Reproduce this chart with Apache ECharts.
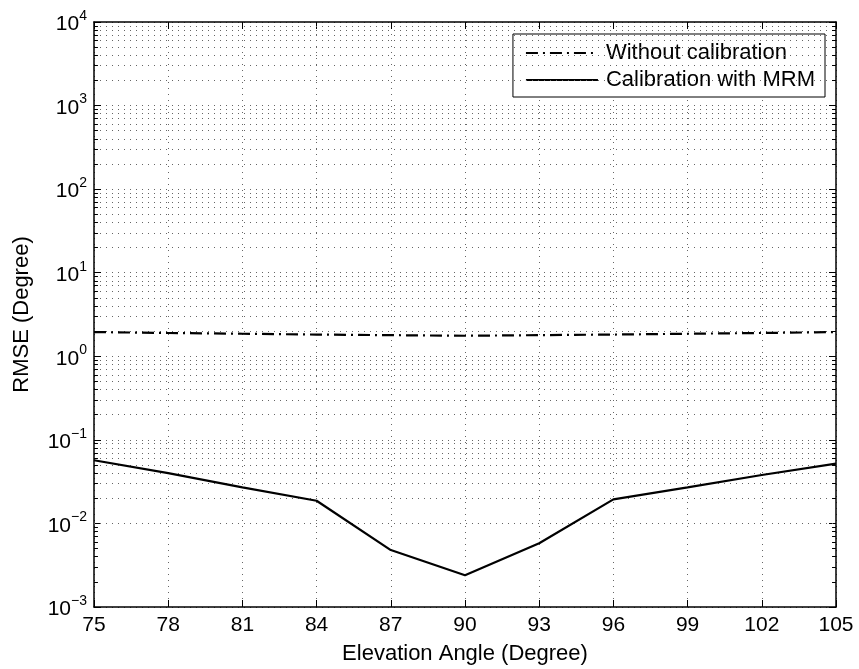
<!DOCTYPE html>
<html>
<head>
<meta charset="utf-8">
<script src="https://cdn.jsdelivr.net/npm/echarts@6/dist/echarts.min.js"></script>
<style>html,body{margin:0;background:#fff}#chart{width:859px;height:669px}</style>
</head>
<body>
<div id="chart"></div>
<script>
// ========= data =========
const angles = [75, 78, 81, 84, 87, 90, 93, 96, 99, 102, 105];
const withoutCal = [1.95, 1.9, 1.86, 1.82, 1.79, 1.76, 1.79, 1.82, 1.86, 1.9, 1.95];
const withMRM = [0.057, 0.040, 0.027, 0.0187, 0.0048, 0.0024, 0.0058, 0.0194, 0.027, 0.038, 0.052];
const seriesNames = ['Without calibration', 'Calibration with MRM'];
const xTicks = [75, 105, 3];      // min, max, step
const yRange = [1e-3, 1e4];

const FONT = "'Liberation Sans', Arial, sans-serif";
const dotted = { type: [1, 5], color: '#666', width: 1 };

// minor log grid values 2..9 per decade
const minorVals = [];
for (let e = -3; e < 4; e++) {
    for (let m = 2; m <= 9; m++) minorVals.push(+(m * Math.pow(10, e)).toPrecision(3));
}
const tickLen = 0.16;
const tickStyle = { type: 'solid', color: '#000', width: 1 };
const minorLines = [];
minorVals.forEach(v => {
    minorLines.push({ yAxis: v, lineStyle: dotted });
    minorLines.push([{ xAxis: xTicks[0], yAxis: v, lineStyle: tickStyle }, { xAxis: xTicks[0] + tickLen, yAxis: v }]);
    minorLines.push([{ xAxis: xTicks[1] - tickLen, yAxis: v, lineStyle: tickStyle }, { xAxis: xTicks[1], yAxis: v }]);
});

const supLabel = v => {
    const e = Math.round(Math.log10(v));
    return '{b|10}{s|' + (e < 0 ? '\u2212' + (-e) : e) + '}';
};

const chart = echarts.init(document.getElementById('chart'));
chart.setOption({
    animation: false,
    backgroundColor: '#fff',
    textStyle: { fontFamily: FONT },
    grid: { left: 94, right: 23, top: 22, bottom: 62, outerBoundsMode: 'none', containLabel: false },
    legend: {
        data: seriesNames,
        orient: 'vertical',
        right: 34, top: 34,
        itemWidth: 72, itemHeight: 14, itemGap: 5,
        padding: [8, 10, 6, 12],
        borderColor: '#000', borderWidth: 1,
        backgroundColor: '#fff',
        itemStyle: { opacity: 0 },
        textStyle: { fontSize: 22, color: '#000', fontFamily: FONT, padding: [0, 0, 0, 3] }
    },
    xAxis: [{
        type: 'value', min: xTicks[0], max: xTicks[1], interval: xTicks[2],
        name: 'Elevation Angle (Degree)', nameLocation: 'middle', nameGap: 36,
        nameTextStyle: { fontSize: 22, color: '#000', fontFamily: FONT },
        axisLine: { lineStyle: { color: '#000', width: 1.5 } },
        axisTick: { inside: true, length: 7, lineStyle: { color: '#000' } },
        axisLabel: { fontSize: 21, color: '#000', margin: 8, fontFamily: FONT },
        splitLine: { show: true, lineStyle: dotted }
    }, {
        type: 'value', position: 'top', min: xTicks[0], max: xTicks[1], interval: xTicks[2],
        axisLine: { show: true, lineStyle: { color: '#000', width: 1.5 } },
        axisTick: { inside: true, length: 7, lineStyle: { color: '#000' } },
        axisLabel: { show: false },
        splitLine: { show: false }
    }],
    yAxis: [{
        type: 'log', logBase: 10, min: yRange[0], max: yRange[1], splitNumber: 7,
        name: 'RMSE (Degree)', nameLocation: 'middle', nameGap: 61,
        nameTextStyle: { fontSize: 22, color: '#000', fontFamily: FONT },
        axisLine: { show: true, lineStyle: { color: '#000', width: 1.5 } },
        axisTick: { show: true, inside: true, length: 7, lineStyle: { color: '#000' } },
        axisLabel: {
            formatter: supLabel, margin: 7,
            rich: {
                b: { fontSize: 21, color: '#000', fontFamily: FONT, verticalAlign: 'bottom', lineHeight: 26 },
                s: { fontSize: 14, color: '#000', fontFamily: FONT, verticalAlign: 'top', lineHeight: 14 }
            }
        },
        splitLine: { show: true, lineStyle: dotted }
    }, {
        type: 'log', logBase: 10, min: yRange[0], max: yRange[1], splitNumber: 7, position: 'right',
        axisLine: { show: true, lineStyle: { color: '#000', width: 1.5 } },
        axisTick: { show: true, inside: true, length: 7, lineStyle: { color: '#000' } },
        axisLabel: { show: false },
        splitLine: { show: false }
    }],
    series: [{
        name: '',
        type: 'line',
        data: [],
        silent: true,
        markLine: {
            silent: true, symbol: ['none', 'none'], label: { show: false },
            animation: false,
            lineStyle: dotted,
            emphasis: { disabled: true },
            data: minorLines
        }
    }, {
        name: seriesNames[0],
        type: 'line',
        data: angles.map((a, i) => [a, withoutCal[i]]),
        showSymbol: false, symbol: 'none',
        lineStyle: { color: '#000', width: 2.2, type: [12, 5, 2, 5] },
        itemStyle: { color: '#000' },
        z: 5
    }, {
        name: seriesNames[1],
        type: 'line',
        data: angles.map((a, i) => [a, withMRM[i]]),
        showSymbol: false, symbol: 'none',
        lineStyle: { color: '#000', width: 2.2, type: 'solid' },
        itemStyle: { color: '#000' },
        z: 5
    }]
});
</script>
</body>
</html>
